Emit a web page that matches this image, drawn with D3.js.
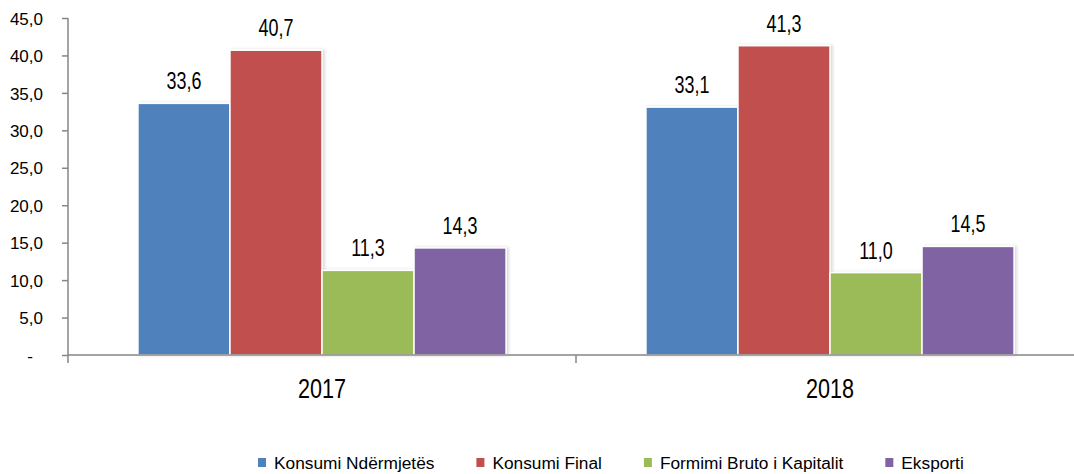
<!DOCTYPE html>
<html>
<head>
<meta charset="utf-8">
<script src="https://cdn.jsdelivr.net/npm/d3@7"></script>
<style>
  body { margin: 0; background: #fff; }
  text { font-family: "Liberation Sans", Arial, sans-serif; fill: #000; }
</style>
</head>
<body>
<div id="chart"></div>
<script>
var years = ["2017", "2018"];
var series = ["Konsumi Ndërmjetës", "Konsumi Final", "Formimi Bruto i Kapitalit", "Eksporti"];
var colors = ["#4F81BD", "#C0504D", "#9BBB59", "#8064A2"];
var values2017 = [33.6, 40.7, 11.3, 14.3];
var values2018 = [33.1, 41.3, 11.0, 14.5];
var yTicks = [0, 5, 10, 15, 20, 25, 30, 35, 40, 45];

var width = 1074, height = 474;
var margin = {top: 18, left: 68, bottom: 119};
var plotBottom = height - margin.bottom;

var rows = years.map(function(y, i) {
  return {year: y, values: i === 0 ? values2017 : values2018};
});

var svg = d3.select("#chart")
  .append("svg")
  .attr("width", width)
  .attr("height", height);

var defs = svg.append("defs");
var shadow = defs.append("filter").attr("id", "shadow")
  .attr("x", "-10%").attr("y", "-10%").attr("width", "130%").attr("height", "120%");
shadow.append("feDropShadow")
  .attr("dx", 2).attr("dy", 0).attr("stdDeviation", 1.5)
  .attr("flood-color", "#000").attr("flood-opacity", 0.15);

var x0 = d3.scaleBand()
  .domain(years)
  .range([margin.left, margin.left + 2 * 508])
  .padding(0);

var x1 = d3.scaleBand()
  .domain(series)
  .range([0, x0.bandwidth()])
  .paddingInner(0)
  .paddingOuter(0.76);

var y = d3.scaleLinear()
  .domain([0, 45])
  .range([plotBottom, margin.top]);

// bars
var groups = svg.selectAll(".grp")
  .data(rows)
  .enter()
  .append("g")
  .attr("class", "grp")
  .attr("transform", function(d) { return "translate(" + x0(d.year) + ",0)"; });

groups.selectAll("rect")
  .data(function(d) { return d.values.map(function(v, i) { return {s: series[i], v: v, c: colors[i]}; }); })
  .enter()
  .append("rect")
  .attr("x", function(d) { return x1(d.s); })
  .attr("y", function(d) { return y(d.v); })
  .attr("width", x1.bandwidth())
  .attr("height", function(d) { return plotBottom - y(d.v); })
  .attr("fill", function(d) { return d.c; })
  .attr("stroke", "#fff")
  .attr("stroke-width", 1.5)
  .attr("filter", "url(#shadow)");

// labels are a narrow face, so squeeze the text horizontally
groups.selectAll(".lbl")
  .data(function(d) { return d.values.map(function(v, i) { return {s: series[i], v: v}; }); })
  .enter()
  .append("text")
  .attr("class", "lbl")
  .attr("transform", function(d) {
    return "translate(" + (x1(d.s) + x1.bandwidth() / 2) + "," + (y(d.v) - 14) + ") scale(0.78,1)";
  })
  .attr("text-anchor", "middle")
  .style("font-size", "23px")
  .text(function(d) { return d.v.toFixed(1).replace(".", ","); });

// y axis
var yAxis = svg.append("g")
  .attr("transform", "translate(" + margin.left + ",0)")
  .call(d3.axisLeft(y).tickValues(yTicks).tickSize(6).tickPadding(19)
    .tickFormat(function(d) { return d === 0 ? "-" : d.toFixed(1).replace(".", ","); }));
yAxis.select(".domain").remove();
yAxis.selectAll(".tick line").attr("stroke", "#868686").attr("stroke-width", 1.5);
yAxis.selectAll(".tick text")
  .style("font-size", "17px")
  .style("font-family", '"Liberation Sans", Arial, sans-serif')
  .attr("dy", "0.36em")
  .attr("dx", function(d) { return d === 0 ? -10 : 0; });
yAxis.append("line")
  .attr("x1", 0).attr("x2", 0)
  .attr("y1", margin.top).attr("y2", plotBottom + 8)
  .attr("stroke", "#868686").attr("stroke-width", 1.5);

// x axis
var xAxis = svg.append("g");
xAxis.append("line")
  .attr("x1", margin.left).attr("x2", width)
  .attr("y1", plotBottom).attr("y2", plotBottom)
  .attr("stroke", "#868686").attr("stroke-width", 1.5);
xAxis.selectAll(".xtick")
  .data(years.slice(1))
  .enter()
  .append("line")
  .attr("x1", function(d) { return x0(d); })
  .attr("x2", function(d) { return x0(d); })
  .attr("y1", plotBottom).attr("y2", plotBottom + 8)
  .attr("stroke", "#868686").attr("stroke-width", 1.5);
xAxis.selectAll(".cat")
  .data(years)
  .enter()
  .append("text")
  .attr("class", "cat")
  .attr("transform", function(d) {
    return "translate(" + (x0(d) + x0.bandwidth() / 2) + "," + (plotBottom + 43) + ") scale(0.8,1)";
  })
  .attr("text-anchor", "middle")
  .style("font-size", "27px")
  .text(function(d) { return d; });

// legend
var legend = svg.append("g").attr("transform", "translate(258,0)");
var lx = 0;
series.forEach(function(s, i) {
  var item = legend.append("g").attr("transform", "translate(" + lx + ",0)");
  item.append("rect")
    .attr("x", 0).attr("y", 458)
    .attr("width", 8).attr("height", 9)
    .attr("fill", colors[i]);
  var t = item.append("text")
    .attr("x", 16).attr("y", 469)
    .style("font-size", "17.3px")
    .text(s);
  lx += 16 + t.node().getComputedTextLength() + 42;
});
</script>
</body>
</html>
